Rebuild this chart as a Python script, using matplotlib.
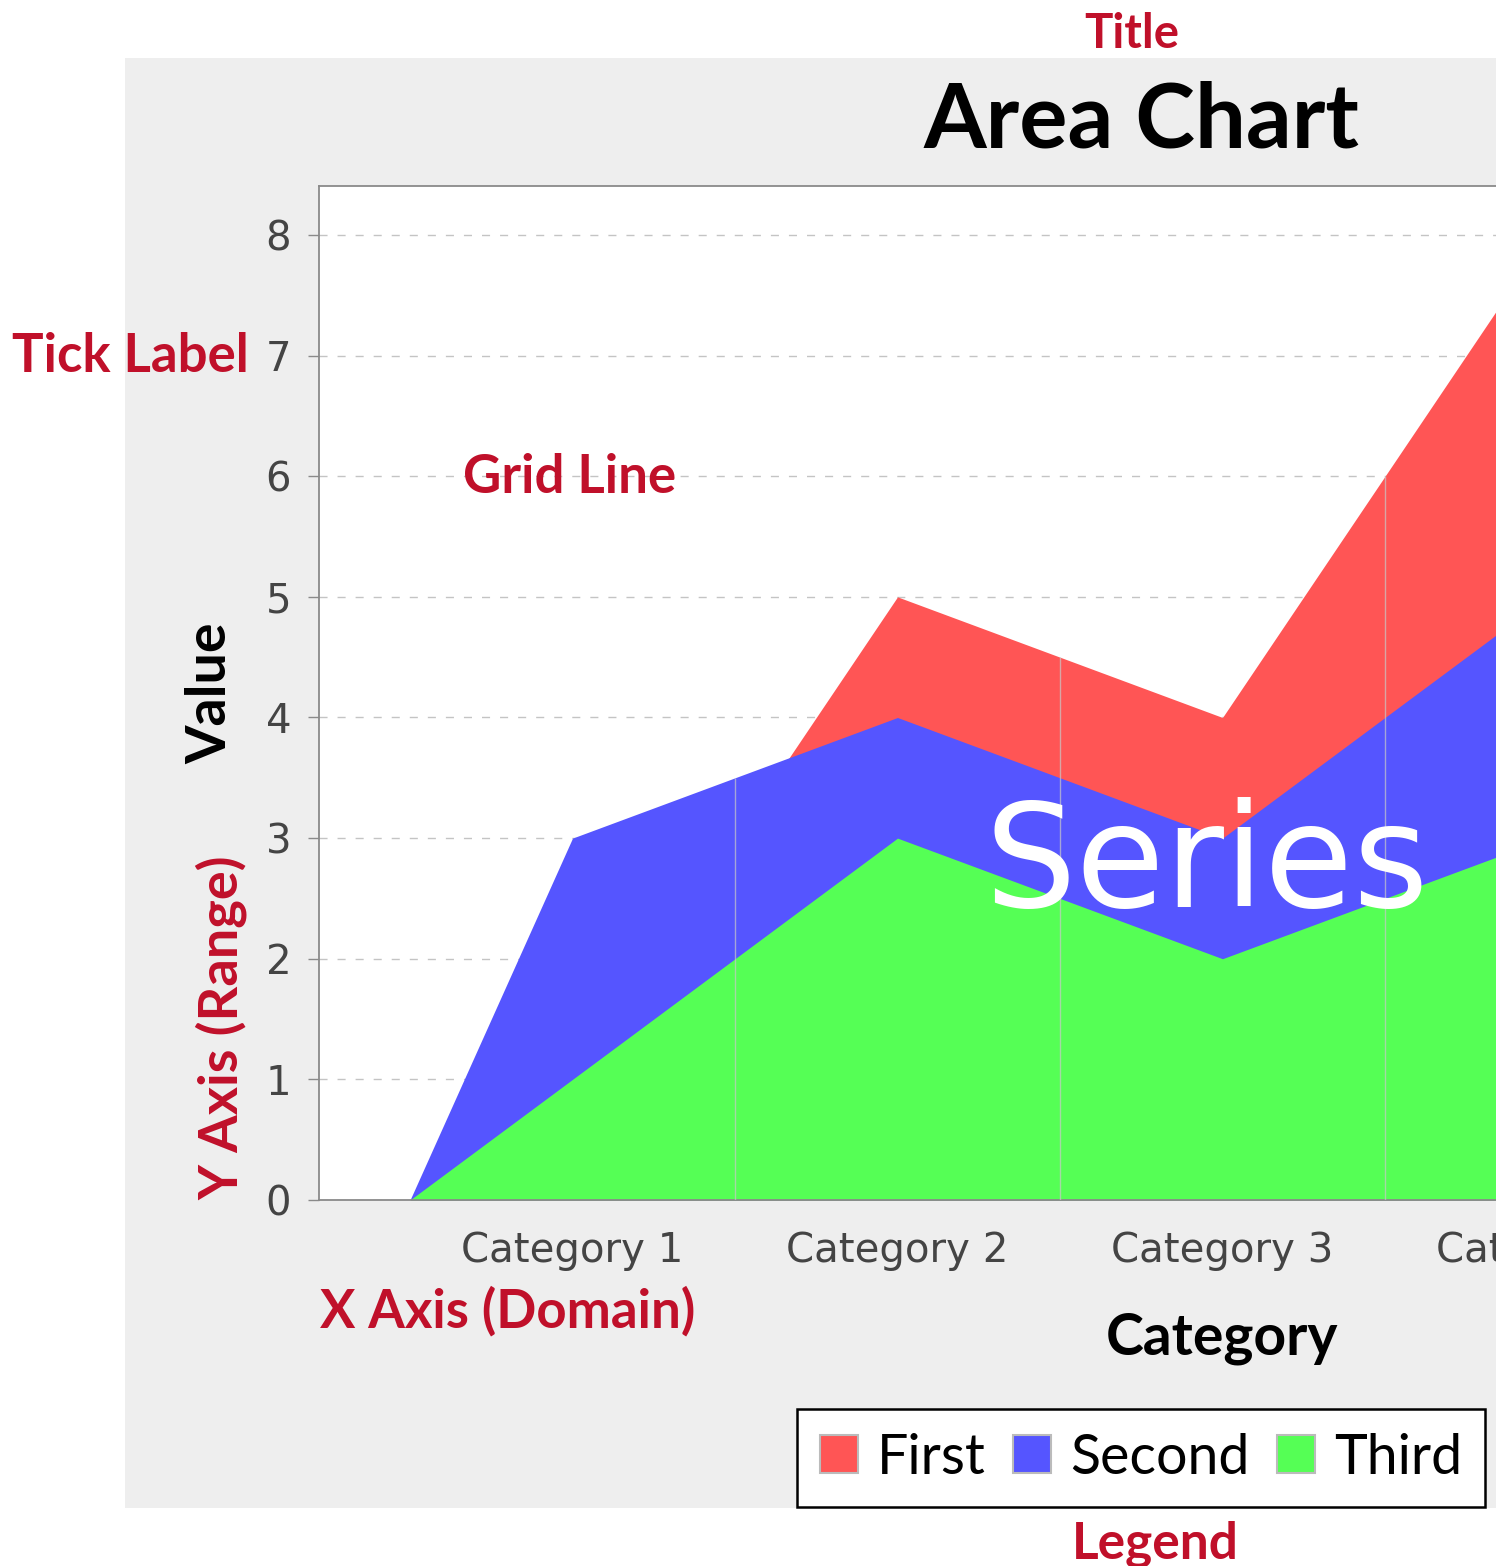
import matplotlib
matplotlib.use('Agg')
import matplotlib.pyplot as plt
from matplotlib.patches import Patch, Rectangle

W, H = 1496, 1566
DPI = 100

categories = ['Category 1', 'Category 2', 'Category 3', 'Category 4']
series_names = ['First', 'Second', 'Third']
first = [1, 5, 4, 8]
second = [3, 4, 3, 5]
third = [1, 3, 2, 3]
y_ticks = [0, 1, 2, 3, 4, 5, 6, 7, 8]

COLORS = ['#ff5555', '#5555ff', '#55ff55']
NOTE = '#c0102a'
PANEL = '#eeeeee'
TICK_TXT = '#444444'


def fx(px):
    return px / W


def fy(py):
    return 1 - py / H


fig = plt.figure(figsize=(W / DPI, H / DPI), dpi=DPI)
fig.patch.set_facecolor('white')

# chart panel (runs off the right edge)
fig.add_artist(Rectangle((fx(125), fy(1508)), 2.0, (1508 - 58) / H,
                         transform=fig.transFigure, facecolor=PANEL,
                         edgecolor='none', zorder=0))

ax = fig.add_axes([fx(319), fy(1200), (2126 - 319) / W, (1200 - 186) / H])
ax.set_facecolor('white')
ax.set_zorder(1)

xc = list(range(1, len(categories) + 1))
xs = [xc[0] - 0.5] + xc + [xc[-1] + 0.5]
for vals, col in zip([first, second, third], COLORS):
    ax.fill_between(xs, [0] + vals + [0], 0, color=col, lw=0, zorder=2)

# seams between the per-category area segments
bounds = [a + 0.5 for a in xc[:-1]]
tops = [max((s[i] + s[i + 1]) / 2 for s in (first, second, third))
        for i in range(len(xc) - 1)]
ax.vlines(bounds, 0, tops, color='#c8c8c8', lw=1.0, alpha=0.7, zorder=3)

ax.set_xlim(0.22, 5.78)
ax.set_ylim(0, 8.406)
ax.set_yticks(y_ticks)
ax.set_xticks(xc)
ax.set_xticklabels(categories)
ax.yaxis.grid(True, color='#c4c4c4', lw=1.0, linestyle=(0, (5.8, 7.2)))
ax.set_axisbelow(True)

for s in ax.spines.values():
    s.set_color('#8a8a8a')
    s.set_linewidth(1.3)
ax.tick_params(axis='y', length=8, width=1, color='#8a8a8a', pad=12,
               labelsize=29, labelcolor=TICK_TXT)
ax.tick_params(axis='x', length=0, pad=22, labelsize=29, labelcolor=TICK_TXT)

ax.set_xlabel('Category', family='Lato', weight='bold', fontsize=41,
              color='black', labelpad=30)
ax.set_ylabel('Value', family='Lato', weight='bold', fontsize=40,
              color='black', labelpad=22)

fig.text(fx(1141), fy(148), 'Area Chart', ha='center', va='baseline',
         family='Lato', weight='bold', fontsize=65, color='black')

handles = [Patch(facecolor=c, edgecolor='#bbbbbb', lw=1.5) for c in COLORS]
leg = fig.legend(handles, series_names, loc='center',
                 bbox_to_anchor=(fx(1141), fy(1458)), ncol=3,
                 prop={'family': 'Lato', 'size': 40},
                 handlelength=0.68, handleheight=0.68, handletextpad=0.34,
                 columnspacing=0.5, borderpad=0.42, fancybox=False,
                 framealpha=1, edgecolor='black')
leg.get_frame().set_linewidth(1.8)

# callout labels
note = dict(family='Lato', weight='bold', color=NOTE)
fig.text(fx(1132), fy(48), 'Title', ha='center', va='baseline', fontsize=34, **note)
fig.text(fx(12), fy(372), 'Tick Label', ha='left', va='baseline', fontsize=38, **note)
fig.text(fx(463), fy(493), 'Grid Line', ha='left', va='baseline', fontsize=38,
         zorder=5, **note)
fig.text(fx(238), fy(1200), 'Y Axis (Range)', ha='left', va='baseline',
         rotation=90, rotation_mode='anchor', fontsize=39, **note)
fig.text(fx(320), fy(1328), 'X Axis (Domain)', ha='left', va='baseline',
         fontsize=38, **note)
fig.text(fx(1155), fy(1558), 'Legend', ha='center', va='baseline', fontsize=37, **note)
fig.text(fx(985), fy(907), 'Series', ha='left', va='baseline', fontsize=104,
         family='DejaVu Sans', color='white', zorder=5)

fig.savefig('out.png', dpi=DPI)
